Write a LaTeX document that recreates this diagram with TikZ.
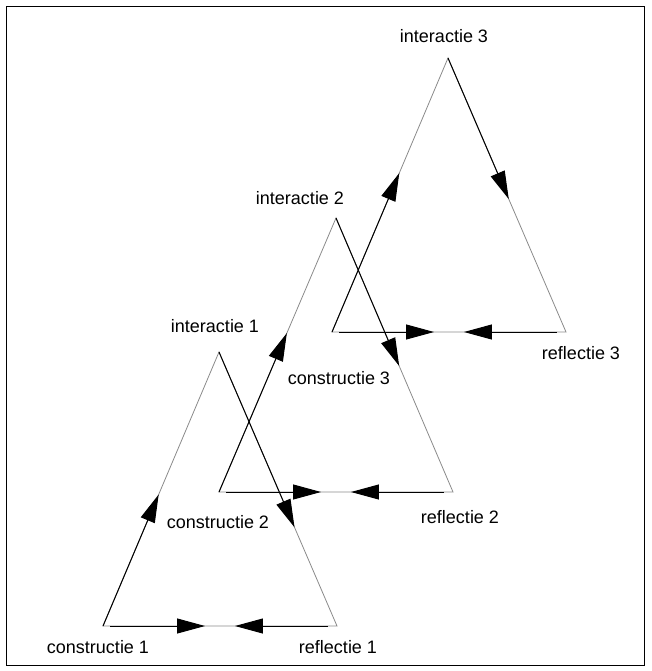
\documentclass[tikz,border=0pt]{standalone}
\usepackage{fontspec}
\setmainfont{Liberation Sans}
\usepackage{tikz}
\usetikzlibrary{arrows.meta,calc}
\definecolor{edge}{HTML}{8A8A8A}

\tikzset{
  side/.style={edge,line width=0.8pt},
  flow/.style={black,line width=1pt,-{Triangle[length=28pt,width=15pt]}},
  lbl/.style={inner sep=0pt}
}

\begin{document}
\begin{tikzpicture}[x=1pt,y=-1pt,font=\fontsize{18}{20}\selectfont]
        \useasboundingbox (0,0) rectangle (651,671);
        \draw[line width=1pt] (6.5,7) rectangle (644.5,665);
        % corners of the three cycles
        \coordinate (c1) at (103,626); \coordinate (r1) at (337,626); \coordinate (i1) at (219,352);
        \coordinate (c2) at (219,492); \coordinate (r2) at (453,492); \coordinate (i2) at (336,218);
        \coordinate (c3) at (332,332); \coordinate (r3) at (566,332); \coordinate (i3) at (448,58);
        \draw[side] (c1) -- (i1) -- (r1) -- cycle;
        \draw[side] (c2) -- (i2) -- (r2) -- cycle;
        \draw[side] (c3) -- (i3) -- (r3) -- cycle;
        % cycle 1
        \draw[flow] (c1) -- ($(c1)!0.48!(i1)$);
        \draw[flow] (i1) -- ($(i1)!0.64!(r1)$);
        \draw[flow] ($(c1)!0.03!(r1)$) -- ($(c1)!0.436!(r1)$);
        \draw[flow] ($(r1)!0.04!(c1)$) -- ($(r1)!0.436!(c1)$);
        % cycle 2
        \draw[flow] (c2) -- ($(c2)!0.58!(i2)$);
        \draw[flow] (i2) -- ($(i2)!0.54!(r2)$);
        \draw[flow] ($(c2)!0.03!(r2)$) -- ($(c2)!0.436!(r2)$);
        \draw[flow] ($(r2)!0.04!(c2)$) -- ($(r2)!0.436!(c2)$);
        % cycle 3
        \draw[flow] (c3) -- ($(c3)!0.58!(i3)$);
        \draw[flow] (i3) -- ($(i3)!0.515!(r3)$);
        \draw[flow] ($(c3)!0.03!(r3)$) -- ($(c3)!0.436!(r3)$);
        \draw[flow] ($(r3)!0.04!(c3)$) -- ($(r3)!0.436!(c3)$);
        % labels
        \node[lbl] (int1) at (215,326) {interactie 1};
        \node[lbl] (int2) at (300,198) {interactie 2};
        \node[lbl] (int3) at (444,36) {interactie 3};
        \node[lbl] (con1) at (98,647) {constructie 1};
        \node[lbl] (ref1) at (338,647) {reflectie 1};
        \node[lbl] (con2) at (218,522) {constructie 2};
        \node[lbl] (ref2) at (460,517) {reflectie 2};
        \node[lbl] (con3) at (339,378) {constructie 3};
        \node[lbl] (ref3) at (581,353) {reflectie 3};
      \end{tikzpicture}
\end{document}
